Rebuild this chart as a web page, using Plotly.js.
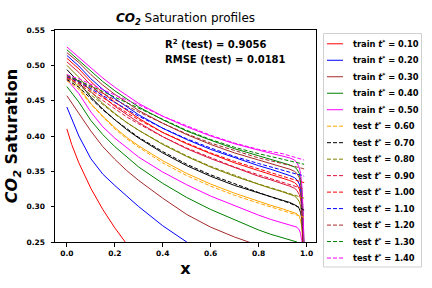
<!DOCTYPE html>
<html>
<head>
<meta charset="utf-8">
<script src="https://cdn.plot.ly/plotly-3.0.1.min.js"></script>
<style>html,body{margin:0;padding:0;background:#fff;}#chart{width:432px;height:288px;}</style>
</head>
<body>
<div id="chart"></div>
<script>
// ---------------- DATA ----------------
const x = [0, 0.02, 0.05, 0.1, 0.15, 0.2, 0.25, 0.3, 0.4, 0.5, 0.6, 0.7, 0.8, 0.85, 0.9, 0.93, 0.95, 0.96, 0.97, 0.975, 0.98, 0.985, 0.99];

const trainTimes = [0.10, 0.20, 0.30, 0.40, 0.50];
const testTimes = [0.60, 0.70, 0.80, 0.90, 1.00, 1.10, 1.20, 1.30, 1.40];

// reference (solid) saturation profiles, t* = 0.1 ... 1.4
const truth_010 = [0.410, 0.388, 0.362, 0.326, 0.296, 0.270, 0.247, 0.228, 0.200, 0.180, 0.166, 0.156, 0.148, 0.145, 0.142, 0.140, 0.139, 0.138, 0.137, 0.136, 0.135, 0.133, 0.130];
const truth_020 = [0.441, 0.424, 0.400, 0.368, 0.346, 0.330, 0.315, 0.300, 0.273, 0.250, 0.232, 0.218, 0.207, 0.203, 0.199, 0.197, 0.196, 0.195, 0.194, 0.193, 0.192, 0.190, 0.188];
const truth_030 = [0.457, 0.447, 0.432, 0.407, 0.385, 0.367, 0.351, 0.337, 0.312, 0.289, 0.271, 0.257, 0.245, 0.241, 0.238, 0.236, 0.234, 0.233, 0.231, 0.229, 0.226, 0.220, 0.210];
const truth_040 = [0.470, 0.461, 0.448, 0.422, 0.402, 0.385, 0.370, 0.356, 0.333, 0.313, 0.296, 0.281, 0.267, 0.261, 0.256, 0.253, 0.251, 0.250, 0.247, 0.243, 0.235, 0.220, 0.190];
const truth_050 = [0.480, 0.472, 0.460, 0.434, 0.413, 0.397, 0.383, 0.370, 0.349, 0.331, 0.315, 0.301, 0.288, 0.282, 0.277, 0.275, 0.273, 0.271, 0.267, 0.262, 0.252, 0.235, 0.200];
const truth_060 = [0.487, 0.480, 0.469, 0.446, 0.428, 0.412, 0.398, 0.386, 0.365, 0.347, 0.332, 0.319, 0.307, 0.302, 0.297, 0.294, 0.292, 0.290, 0.286, 0.281, 0.272, 0.250, 0.210];
const truth_070 = [0.494, 0.487, 0.476, 0.455, 0.438, 0.423, 0.409, 0.397, 0.376, 0.358, 0.343, 0.330, 0.319, 0.314, 0.309, 0.306, 0.303, 0.301, 0.297, 0.292, 0.283, 0.262, 0.220];
const truth_080 = [0.500, 0.493, 0.483, 0.463, 0.446, 0.432, 0.419, 0.408, 0.388, 0.371, 0.356, 0.343, 0.331, 0.326, 0.321, 0.318, 0.315, 0.312, 0.307, 0.301, 0.290, 0.268, 0.225];
const truth_090 = [0.505, 0.499, 0.490, 0.472, 0.456, 0.442, 0.430, 0.419, 0.399, 0.382, 0.368, 0.355, 0.343, 0.338, 0.333, 0.329, 0.326, 0.323, 0.317, 0.311, 0.299, 0.275, 0.230];
const truth_100 = [0.510, 0.504, 0.495, 0.477, 0.461, 0.448, 0.436, 0.425, 0.405, 0.389, 0.375, 0.362, 0.351, 0.346, 0.341, 0.337, 0.334, 0.331, 0.325, 0.318, 0.305, 0.280, 0.230];
const truth_110 = [0.514, 0.508, 0.499, 0.481, 0.466, 0.453, 0.441, 0.430, 0.411, 0.395, 0.381, 0.369, 0.358, 0.353, 0.348, 0.344, 0.341, 0.338, 0.332, 0.325, 0.311, 0.285, 0.235];
const truth_120 = [0.518, 0.512, 0.504, 0.487, 0.472, 0.459, 0.447, 0.436, 0.418, 0.402, 0.388, 0.376, 0.366, 0.361, 0.357, 0.353, 0.350, 0.347, 0.341, 0.334, 0.319, 0.290, 0.235];
const truth_130 = [0.522, 0.516, 0.508, 0.492, 0.477, 0.464, 0.452, 0.441, 0.423, 0.407, 0.394, 0.382, 0.372, 0.367, 0.363, 0.359, 0.356, 0.353, 0.347, 0.339, 0.324, 0.295, 0.240];
const truth_140 = [0.526, 0.520, 0.512, 0.497, 0.482, 0.469, 0.457, 0.446, 0.428, 0.413, 0.400, 0.389, 0.380, 0.376, 0.372, 0.369, 0.366, 0.362, 0.355, 0.347, 0.332, 0.300, 0.240];

// test predictions (dashed), t* = 0.6 ... 1.4
const pred_060 = [0.478, 0.474, 0.466, 0.445, 0.427, 0.410, 0.396, 0.384, 0.362, 0.344, 0.329, 0.316, 0.305, 0.300, 0.295, 0.292, 0.290, 0.289, 0.288, 0.287, 0.287, 0.286, 0.285];
const pred_070 = [0.480, 0.476, 0.469, 0.453, 0.437, 0.423, 0.410, 0.398, 0.378, 0.360, 0.345, 0.332, 0.320, 0.314, 0.309, 0.305, 0.302, 0.301, 0.299, 0.298, 0.297, 0.296, 0.295];
const pred_080 = [0.481, 0.478, 0.472, 0.458, 0.444, 0.431, 0.419, 0.408, 0.389, 0.372, 0.357, 0.344, 0.332, 0.327, 0.322, 0.319, 0.317, 0.316, 0.315, 0.314, 0.313, 0.313, 0.312];
const pred_090 = [0.482, 0.479, 0.474, 0.462, 0.450, 0.438, 0.427, 0.417, 0.399, 0.383, 0.369, 0.356, 0.345, 0.340, 0.335, 0.332, 0.330, 0.329, 0.328, 0.327, 0.326, 0.325, 0.324];
const pred_100 = [0.483, 0.480, 0.476, 0.465, 0.454, 0.443, 0.433, 0.423, 0.405, 0.390, 0.376, 0.364, 0.353, 0.348, 0.343, 0.340, 0.338, 0.337, 0.336, 0.336, 0.335, 0.335, 0.334];
const pred_110 = [0.484, 0.481, 0.477, 0.467, 0.457, 0.447, 0.437, 0.428, 0.411, 0.396, 0.383, 0.371, 0.361, 0.356, 0.352, 0.349, 0.347, 0.346, 0.345, 0.345, 0.344, 0.344, 0.343];
const pred_120 = [0.485, 0.482, 0.478, 0.469, 0.460, 0.451, 0.442, 0.434, 0.418, 0.403, 0.390, 0.379, 0.369, 0.365, 0.361, 0.359, 0.357, 0.356, 0.355, 0.355, 0.354, 0.354, 0.353];
const pred_130 = [0.486, 0.483, 0.479, 0.471, 0.463, 0.455, 0.447, 0.439, 0.423, 0.408, 0.395, 0.384, 0.375, 0.371, 0.368, 0.365, 0.364, 0.363, 0.362, 0.362, 0.361, 0.361, 0.360];
const pred_140 = [0.487, 0.484, 0.481, 0.473, 0.465, 0.458, 0.451, 0.444, 0.428, 0.414, 0.401, 0.390, 0.381, 0.378, 0.375, 0.372, 0.370, 0.369, 0.368, 0.368, 0.367, 0.367, 0.366];

const r2Test = 0.9056;
const rmseTest = 0.0181;

const xTicks = [0.0, 0.2, 0.4, 0.6, 0.8, 1.0];
const yTicks = [0.25, 0.30, 0.35, 0.40, 0.45, 0.50, 0.55];

// ---------------- STYLE ----------------
const truthSeries = [truth_010, truth_020, truth_030, truth_040, truth_050, truth_060, truth_070,
                     truth_080, truth_090, truth_100, truth_110, truth_120, truth_130, truth_140];
const predSeries = [pred_060, pred_070, pred_080, pred_090, pred_100, pred_110, pred_120, pred_130, pred_140];
const allTimes = trainTimes.concat(testTimes);
const colors = ['#ff0000', '#0000ff', '#a52a2a', '#008000', '#ff00ff', '#ffa500', '#000000',
                '#808000', '#dc143c', '#ff0000', '#0000ff', '#a52a2a', '#008000', '#ff00ff'];
const DASH = '4px,2px';
const FONT = 'DejaVu Sans, Verdana, sans-serif';

const traces = [];
truthSeries.forEach((s, i) => {
  traces.push({x: x, y: s, type: 'scatter', mode: 'lines', showlegend: false,
    line: {color: colors[i], width: 1}, hoverinfo: 'skip'});
});
predSeries.forEach((s, j) => {
  const i = trainTimes.length + j;
  traces.push({x: x, y: s, type: 'scatter', mode: 'lines', showlegend: false,
    line: {color: colors[i], width: 1, dash: DASH}, hoverinfo: 'skip'});
});

// pixel geometry of the axes box
const L = 55, R = 316, T = 30, B = 242;
const W = R - L, H = B - T;
const pxX = px => (px - L) / W;
const pxY = py => (B - py) / H;

const shapes = [];
const annotations = [];

// custom legend (matplotlib-like compact frame)
shapes.push({type: 'rect', xref: 'paper', yref: 'paper', x0: pxX(323.5), x1: pxX(421.5), y0: pxY(267), y1: pxY(33.5),
  line: {color: '#d0d0d0', width: 1}, fillcolor: 'rgba(255,255,255,0.8)', layer: 'above'});
const row0 = 43.8, rowStep = 16.48;
allTimes.forEach((t, i) => {
  const yy = pxY(row0 + i * rowStep);
  const isTrain = i < trainTimes.length;
  shapes.push({type: 'line', xref: 'paper', yref: 'paper', x0: pxX(327), x1: pxX(343), y0: yy, y1: yy,
    line: {color: colors[i], width: 1, dash: isTrain ? 'solid' : DASH}, layer: 'above'});
  annotations.push({xref: 'paper', yref: 'paper', x: pxX(351), y: yy, xanchor: 'left', yanchor: 'middle',
    showarrow: false, text: (isTrain ? 'train' : 'test') + ' <i>t</i><sup>*</sup> = ' + t.toFixed(2),
    font: {family: FONT, size: 8.3, color: '#000', weight: 'bold'}});
});

annotations.push({xref: 'paper', yref: 'paper', x: pxX(163), y: pxY(44), xanchor: 'left', yanchor: 'middle',
  showarrow: false, text: 'R<sup>2</sup> (test) = ' + r2Test.toFixed(4),
  font: {family: FONT, size: 10, color: '#000', weight: 'bold'}});
annotations.push({xref: 'paper', yref: 'paper', x: pxX(163), y: pxY(60), xanchor: 'left', yanchor: 'middle',
  showarrow: false, text: 'RMSE (test) = ' + rmseTest.toFixed(4),
  font: {family: FONT, size: 10, color: '#000', weight: 'bold'}});

const layout = {
  width: 432, height: 288,
  margin: {l: L, r: 432 - R, t: T, b: 288 - B, pad: 0},
  paper_bgcolor: '#fff', plot_bgcolor: '#fff',
  showlegend: false,
  font: {family: FONT, color: '#000'},
  title: {text: '<b><i>CO<sub>2</sub></i></b> Saturation profiles', x: 0.5, xref: 'paper',
    y: 1 - 18 / 288, yref: 'container', yanchor: 'middle', xanchor: 'center',
    font: {family: FONT, size: 12, color: '#000'}},
  xaxis: {range: [-0.0495, 1.0395], tickvals: xTicks, ticktext: xTicks.map(v => v.toFixed(1)),
    ticks: 'outside', ticklen: 3.5, tickwidth: 0.8, tickcolor: '#000', ticklabelstandoff: 0,
    showline: true, linecolor: '#000', linewidth: 1, mirror: true, showgrid: false, zeroline: false,
    tickfont: {family: FONT, size: 7.5, color: '#000', weight: 'bold'},
    title: {text: 'x', standoff: 6, font: {family: FONT, size: 16, color: '#000', weight: 'bold'}}},
  yaxis: {range: [0.25, 0.55], tickvals: yTicks, ticktext: yTicks.map(v => v.toFixed(2)),
    ticks: 'outside', ticklen: 3.5, tickwidth: 0.8, tickcolor: '#000', ticklabelstandoff: 4,
    showline: true, linecolor: '#000', linewidth: 1, mirror: true, showgrid: false, zeroline: false,
    tickfont: {family: FONT, size: 7.5, color: '#000', weight: 'bold'},
    title: {text: '<i>CO<sub>2</sub></i> Saturation', standoff: 4, font: {family: FONT, size: 16, color: '#000', weight: 'bold'}}},
  shapes: shapes,
  annotations: annotations
};

Plotly.newPlot('chart', traces, layout, {displayModeBar: false});
</script>
</body>
</html>
